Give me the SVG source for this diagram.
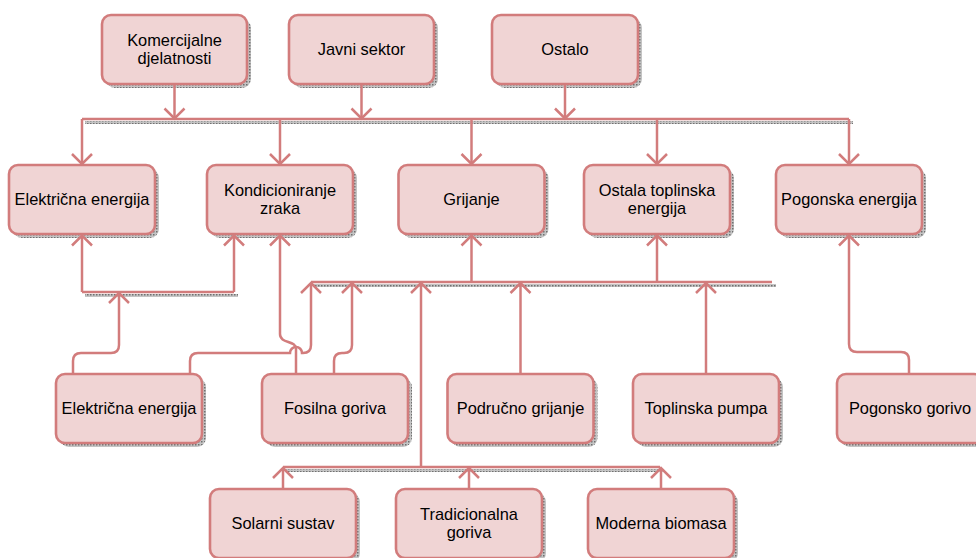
<svg xmlns="http://www.w3.org/2000/svg" width="976" height="558" viewBox="0 0 976 558">
<defs>
<pattern id="st" width="3" height="3" patternUnits="userSpaceOnUse">
<rect width="3" height="3" fill="#c4c4c4"/>
<rect width="1.5" height="1.5" fill="#707070"/>
</pattern>
<marker id="ah" markerUnits="userSpaceOnUse" markerWidth="26" markerHeight="26" viewBox="-13 -13 26 26" refX="0" refY="0" orient="auto">
<path d="M-10,-10 L0,0 L-10,10" fill="none" stroke="#D27C7C" stroke-width="2.5"/>
</marker>
<style>
.box{fill:#F0D4D4;stroke:#D27C7C;stroke-width:2.6}
.sh{fill:url(#st)}
.t{font-family:"Liberation Sans",Arial,sans-serif;font-size:16.4px;fill:#000;text-anchor:middle}
.ln{fill:none;stroke:#D27C7C;stroke-width:2.5}
.ar{marker-end:url(#ah)}
</style>
</defs>
<rect width="976" height="558" fill="#fff"/>

<!-- bus shadows -->
<g id="bus-shadows" class="sh">
<rect x="85" y="121" width="768" height="3"/>
<rect x="85" y="294" width="153" height="3"/>
<rect x="314" y="284" width="462" height="3"/>
<rect x="286" y="469" width="378" height="3"/>
</g>

<!-- nodes -->
<g id="n-komercijalne"><rect class="sh" x="106" y="19" width="145" height="69" rx="9"/><rect class="box" x="102" y="15" width="145" height="69" rx="9"/><text class="t" x="174.5" y="45.5">Komercijalne</text><text class="t" x="174.5" y="64">djelatnosti</text></g>
<g id="n-javni"><rect class="sh" x="293" y="19" width="145" height="69" rx="9"/><rect class="box" x="289" y="15" width="145" height="69" rx="9"/><text class="t" x="361.5" y="55">Javni sektor</text></g>
<g id="n-ostalo"><rect class="sh" x="496" y="19" width="146" height="69" rx="9"/><rect class="box" x="492" y="15" width="146" height="69" rx="9"/><text class="t" x="565" y="55">Ostalo</text></g>

<g id="n-el-energija"><rect class="sh" x="13" y="169" width="146" height="69" rx="9"/><rect class="box" x="9" y="165" width="146" height="69" rx="9"/><text class="t" x="82" y="205">Električna energija</text></g>
<g id="n-kondicioniranje"><rect class="sh" x="211" y="169" width="146" height="69" rx="9"/><rect class="box" x="207" y="165" width="146" height="69" rx="9"/><text class="t" x="280" y="195.5">Kondicioniranje</text><text class="t" x="280" y="214">zraka</text></g>
<g id="n-grijanje"><rect class="sh" x="402.5" y="169" width="146" height="69" rx="9"/><rect class="box" x="398.5" y="165" width="146" height="69" rx="9"/><text class="t" x="471.5" y="205">Grijanje</text></g>
<g id="n-ostala-toplinska"><rect class="sh" x="588" y="169" width="146" height="69" rx="9"/><rect class="box" x="584" y="165" width="146" height="69" rx="9"/><text class="t" x="657" y="195.5">Ostala toplinska</text><text class="t" x="657" y="214">energija</text></g>
<g id="n-pogonska-energija"><rect class="sh" x="780" y="169" width="146" height="69" rx="9"/><rect class="box" x="776" y="165" width="146" height="69" rx="9"/><text class="t" x="849" y="205">Pogonska energija</text></g>

<g id="n-el-energija-2"><rect class="sh" x="60" y="378" width="146" height="69" rx="9"/><rect class="box" x="56" y="374" width="146" height="69" rx="9"/><text class="t" x="129" y="414">Električna energija</text></g>
<g id="n-fosilna"><rect class="sh" x="266" y="378" width="146" height="69" rx="9"/><rect class="box" x="262" y="374" width="146" height="69" rx="9"/><text class="t" x="335" y="414">Fosilna goriva</text></g>
<g id="n-podrucno"><rect class="sh" x="451.5" y="378" width="146" height="69" rx="9"/><rect class="box" x="447.5" y="374" width="146" height="69" rx="9"/><text class="t" x="520.5" y="414">Područno grijanje</text></g>
<g id="n-toplinska-pumpa"><rect class="sh" x="637" y="378" width="146" height="69" rx="9"/><rect class="box" x="633" y="374" width="146" height="69" rx="9"/><text class="t" x="706" y="414">Toplinska pumpa</text></g>
<g id="n-pogonsko-gorivo"><rect class="sh" x="841" y="378" width="146" height="69" rx="9"/><rect class="box" x="837" y="374" width="146" height="69" rx="9"/><text class="t" x="910" y="414">Pogonsko gorivo</text></g>

<g id="n-solarni"><rect class="sh" x="214" y="493" width="146" height="69" rx="9"/><rect class="box" x="210" y="489" width="146" height="69" rx="9"/><text class="t" x="283" y="529">Solarni sustav</text></g>
<g id="n-tradicionalna"><rect class="sh" x="400" y="493" width="146" height="69" rx="9"/><rect class="box" x="396" y="489" width="146" height="69" rx="9"/><text class="t" x="469" y="519.5">Tradicionalna</text><text class="t" x="469" y="538">goriva</text></g>
<g id="n-moderna"><rect class="sh" x="592" y="493" width="146" height="69" rx="9"/><rect class="box" x="588" y="489" width="146" height="69" rx="9"/><text class="t" x="661" y="529">Moderna biomasa</text></g>

<!-- connectors -->
<g id="connectors" class="ln">
<!-- top -->
<path class="ar" d="M174.5,84 V118.5"/>
<path class="ar" d="M361.5,84 V118.5"/>
<path class="ar" d="M565,84 V118.5"/>
<path d="M82,119 H849"/>
<path class="ar" d="M82,119 V164"/>
<path class="ar" d="M280,119 V164"/>
<path class="ar" d="M471.5,119 V164"/>
<path class="ar" d="M657,119 V164"/>
<path class="ar" d="M849,119 V164"/>
<!-- small left bus -->
<path d="M82,292 H234"/>
<path class="ar" d="M82,292 V235.5"/>
<path class="ar" d="M234,292 V235.5"/>
<path class="ar" d="M73,374 V361 Q73,353 81,353 H111 Q119,353 119,345 V293"/>
<!-- Fosilna to Kondicioniranje -->
<path class="ar" d="M296,374 V349 C296,340 280,344 280,334 V235.5"/>
<!-- Elektricna 2 to middle bus with hop -->
<path class="ar" d="M190,374 V361 Q190,353 198,353 H290 A6,6 0 0 1 302,353 H303 Q311,353 311,345 V283"/>
<!-- Fosilna to middle bus -->
<path class="ar" d="M334,374 V361 Q334,353 342,353 H344 Q352,353 352,345 V283"/>
<!-- middle bus -->
<path d="M311,282 H772"/>
<path class="ar" d="M471.5,282 V235.5"/>
<path class="ar" d="M657,282 V235.5"/>
<path class="ar" d="M520.5,374 V283"/>
<path class="ar" d="M706,374 V283"/>
<path class="ar" d="M421,467 V283"/>
<!-- Pogonsko gorivo -->
<path class="ar" d="M909,374 V360 Q909,352 901,352 H857 Q849,352 849,344 V235.5"/>
<!-- bottom bus -->
<path d="M283,467 H660"/>
<path class="ar" d="M283,489 V468"/>
<path class="ar" d="M469,489 V468"/>
<path class="ar" d="M661,489 V468"/>
</g>
</svg>
